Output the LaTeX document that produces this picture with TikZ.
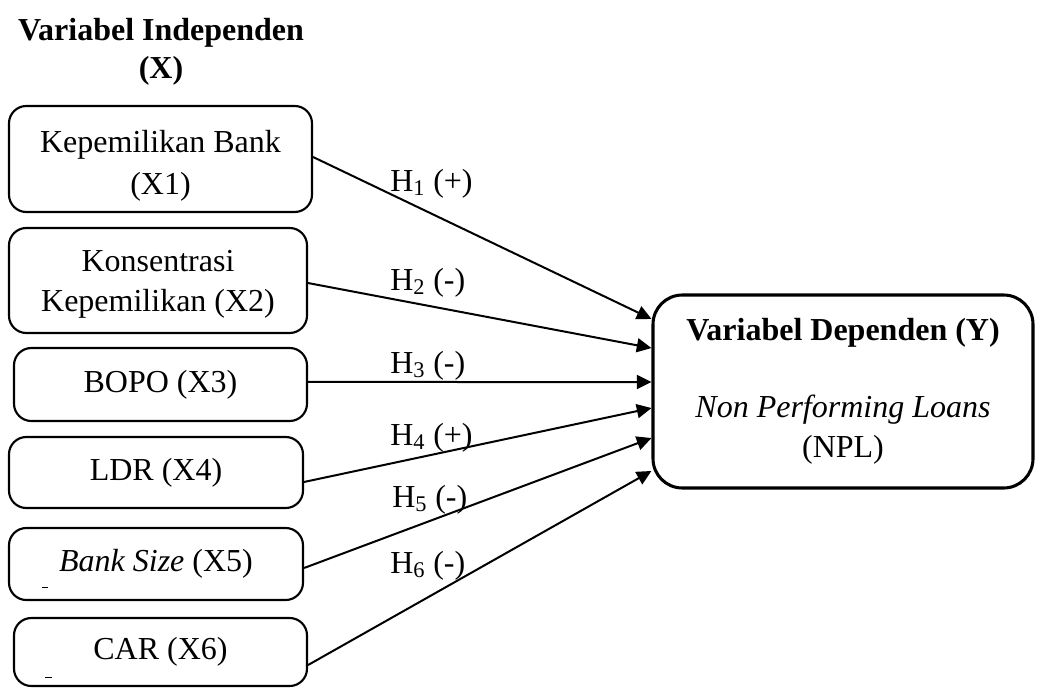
\documentclass[tikz,border=0pt]{standalone}
\usepackage{fontspec}
\setmainfont{Liberation Serif}
\usetikzlibrary{arrows.meta}

\begin{document}
\begin{tikzpicture}[x=.75pt,y=-.75pt,
  font=\fontsize{24}{30}\selectfont,
  varbox/.style={draw,line width=1.6pt,rounded corners=13pt,align=center,inner sep=0pt},
  depbox/.style={draw,line width=2.3pt,rounded corners=22pt,align=center,inner sep=0pt},
  hyp/.style={anchor=base west,inner sep=0pt},
  link/.style={line width=1.5pt,-{Triangle[length=11pt,width=10.5pt]}}]
\useasboundingbox (0,0) rectangle (1037,688);
% heading of the left column
\node[font=\fontsize{24}{28.5}\bfseries\selectfont,align=center] (indep) at (161,51.5) {Variabel Independen\\(X)};
% independent variables (the struts push two-line text a little lower)
\node[varbox,minimum width=227.25pt,minimum height=79.5pt] (x1) at (160.5,159) {\rule{0pt}{27pt}Kepemilikan Bank\\[1.5pt](X1)};
\node[varbox,minimum width=223.5pt,minimum height=78.75pt] (x2) at (158,280.5) {\rule{0pt}{22pt}Konsentrasi\\Kepemilikan (X2)};
\node[varbox,minimum width=219.75pt,minimum height=54.75pt] (x3) at (160.5,384.5) {BOPO (X3)};
\node[varbox,minimum width=220.5pt,minimum height=53.25pt] (x4) at (156,472.5) {LDR (X4)};
\node[varbox,minimum width=220.5pt,minimum height=54pt] (x5) at (156,564) {\textit{Bank Size} (X5)};
\node[varbox,minimum width=219.75pt,minimum height=51pt] (x6) at (160.5,652) {CAR (X6)};
\draw[line width=.75pt] (42,587) -- (48,587);
\draw[line width=.75pt] (45,677) -- (52,677);
% dependent variable
\node[depbox,minimum width=285pt,minimum height=144.75pt] (npl) at (843,391.5)
  {\textbf{Variabel Dependen (Y)}\\[28pt]\textit{Non Performing Loans}\\(NPL)};
% hypotheses
\draw[link] ([yshift=1.5pt]x1.east) -- ([yshift=54.4pt]npl.west);
\draw[link] ([yshift=-1.9pt]x2.east) -- ([yshift=32.6pt]npl.west);
\draw[link] ([yshift=1.9pt]x3.east) -- ([yshift=7.1pt]npl.west);
\draw[link] ([yshift=-7.1pt]x4.east) -- ([yshift=-12.4pt]npl.west);
\draw[link] ([yshift=-3pt]x5.east) -- ([yshift=-34.9pt]npl.west);
\draw[link] ([yshift=-9.75pt]x6.east) -- ([yshift=-59.6pt]npl.west);
\node[hyp] (h1) at (390,191) {H\textsubscript{1} (+)};
\node[hyp] (h2) at (390,290) {H\textsubscript{2} (-)};
\node[hyp] (h3) at (390,373) {H\textsubscript{3} (-)};
\node[hyp] (h4) at (390,445) {H\textsubscript{4} (+)};
\node[hyp] (h5) at (392,507) {H\textsubscript{5} (-)};
\node[hyp] (h6) at (390,573) {H\textsubscript{6} (-)};
\end{tikzpicture}
\end{document}
